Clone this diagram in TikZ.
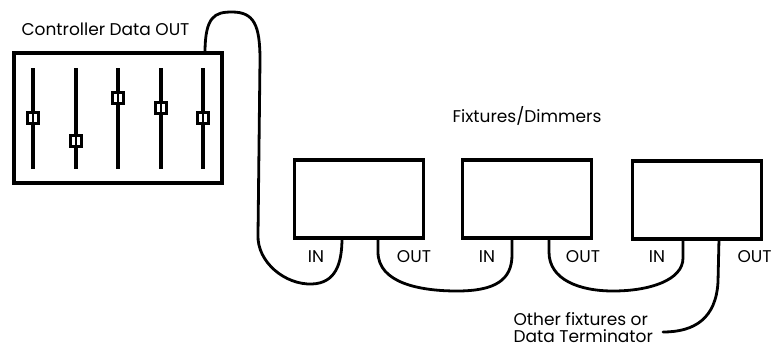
\documentclass[tikz,border=0pt]{standalone}
\usepackage{fontspec}
\setmainfont{Poppins}
\usetikzlibrary{positioning}
\tikzset{every path/.style={black,line width=3.2pt},
  box/.style={draw,line width=3.4pt,inner sep=0pt},
  lbl/.style={inner sep=0pt,font=\fontsize{17}{17}\selectfont},
  cable/.style={line width=2.8pt,line cap=round}}

\begin{document}
\begin{tikzpicture}[x=1pt,y=-1pt]
   \useasboundingbox (0,0) rectangle (772,349);
   % controller desk with faders
   \node[box,minimum width=208pt,minimum height=130pt] (ctrl) at (118,118) {};
   \foreach \x/\k [count=\i] in {33/118,76/141,118/98,161/108,203/118} {
     \draw (\x,68) -- (\x,169);
     \node[box,fill=white,line width=3.2pt,minimum size=11pt] (k\i) at (\x,\k) {};
     \draw[line width=1.6pt] (k\i.north) -- (k\i.south);
   }
   % fixtures
   \node[box,minimum width=129pt,minimum height=78pt] (f1) at (359,199) {};
   \node[box,minimum width=129pt,minimum height=78pt] (f2) at (527,199) {};
   \node[box,minimum width=129pt,minimum height=78pt] (f3) at (697,200) {};
   % labels
   \node[lbl,anchor=west] (tctrl) at (20,29) {Controller Data OUT};
   \node[lbl,anchor=west] (tfix) at (451,116) {Fixtures/Dimmers};
   \node[lbl,anchor=west,align=left] (tother) at (512,328) {Other fixtures or\\Data Terminator};
   \node[lbl] (in1) at (316,257) {IN};
   \node[lbl] (out1) at (414,257) {OUT};
   \node[lbl] (in2) at (487,257) {IN};
   \node[lbl] (out2) at (583,257) {OUT};
   \node[lbl] (in3) at (657,257) {IN};
   \node[lbl,anchor=west] (out3) at (736,257) {OUT};
   % cables
   \coordinate (c0) at (205,53);
   \coordinate (c1) at (342,238);
   \coordinate (c2) at (378,238);
   \coordinate (c3) at (512,238);
   \coordinate (c4) at (549,238);
   \coordinate (c5) at (683,239);
   \coordinate (c6) at (719,239);
   \coordinate (c7) at (663,332);
   \draw[cable] (c0) .. controls (205,16) and (215,12) .. (232,12)
      .. controls (254,12) and (260,25) .. (260,60) -- (258,235)
      .. controls (257,262) and (285,285) .. (312,284)
      .. controls (335,283) and (342,265) .. (c1);
   \draw[cable] (c2) -- (378,252) .. controls (378,283) and (420,291) .. (457,291)
      .. controls (495,291) and (512,280) .. (512,255) -- (c3);
   \draw[cable] (c4) -- (549,252) .. controls (549,280) and (580,291) .. (613,291)
      .. controls (650,291) and (683,280) .. (683,258) -- (c5);
   \draw[cable] (c6) -- (718,282) .. controls (716,318) and (695,332) .. (c7);
  \end{tikzpicture}
\end{document}
